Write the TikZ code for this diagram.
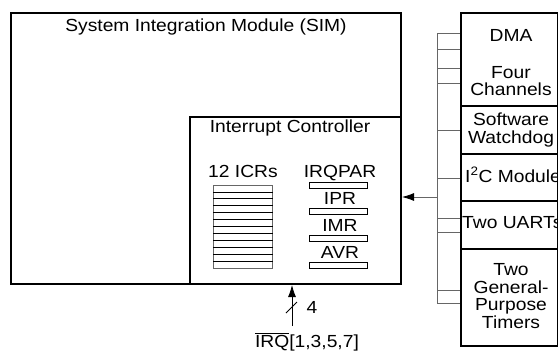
\documentclass[tikz,border=0pt]{standalone}
\usepackage{fontspec}
\setmainfont{Liberation Sans}[FakeStretch=1.1]
\usetikzlibrary{positioning, arrows.meta}
\tikzset{
    blk/.style={draw, line width=2pt, inner sep=0pt, anchor=north west},
    regbar/.style={draw, line width=0.8pt, inner sep=0pt, anchor=north west,
        minimum width=58pt, minimum height=6pt},
    lbl/.style={inner sep=0pt, align=center, font=\fontsize{17.5}{17.5}\selectfont},
    stub/.style={draw=black!60, line width=0.8pt},
}

\begin{document}
\begin{tikzpicture}[x=1pt, y=-1pt]
    \useasboundingbox (0,0) rectangle (558,351);

    % SIM and interrupt controller
    \node[blk, minimum width=390pt, minimum height=271pt] (sim) at (10,12) {};
    \node[blk, minimum width=211pt, minimum height=167pt] (ic) at (189,116) {};
    \node[lbl, anchor=base] (simtitle) at (206,31) {System Integration Module (SIM)};
    \node[lbl, anchor=base] (ictitle) at (290,132) {Interrupt Controller};

    % ICR stack
    \node[lbl, anchor=base] (icrlabel) at (243,177) {12 ICRs};
    \node[draw=black!60, line width=0.8pt, inner sep=0pt, anchor=north west,
        minimum width=59pt, minimum height=83pt] (icrs) at (213,185) {};
    \foreach \i in {1,...,11}
        \draw[line width=0.8pt] ([yshift={-\i*83/12*1pt}]icrs.north west)
            -- ([yshift={-\i*83/12*1pt}]icrs.north east);

    % registers
    \node[lbl, anchor=base] (irqpar) at (340,177) {IRQPAR};
    \node[regbar] (barpar) at (309,182) {};
    \node[lbl, anchor=base] (ipr) at (340,204) {IPR};
    \node[regbar] (baripr) at (309,208) {};
    \node[lbl, anchor=base] (imr) at (340,231) {IMR};
    \node[regbar] (barimr) at (309,235) {};
    \node[lbl, anchor=base] (avr) at (340,258) {AVR};
    \node[regbar] (baravr) at (309,262) {};

    % IRQ input
    \coordinate (irqsrc) at (292,326);
    \draw[line width=0.8pt, -{Latex[length=12pt, width=8pt]}] (irqsrc) -- (irqsrc |- ic.south);
    \draw[line width=0.8pt] (286,313) -- (297,302);
    \node[lbl, anchor=base] (width) at (312,313) {4};
    \node[lbl, anchor=base] (irq) at (307,347) {$\overline{\mbox{IRQ}}$[1,3,5,7]};

    % peripherals
    \node[blk, minimum width=97pt, minimum height=93pt] (dma) at (460,12) {};
    \node[blk, minimum width=97pt, minimum height=48pt] (wdog) at (460,105) {};
    \node[blk, minimum width=97pt, minimum height=47pt] (iic) at (460,153) {};
    \node[blk, minimum width=97pt, minimum height=48pt] (uart) at (460,200) {};
    \node[blk, minimum width=97pt, minimum height=97pt] (gpt) at (460,248) {};
    \node[lbl, anchor=base] (dmalabel) at (511,41) {DMA};
    \node[lbl] (chlabel) at (511,81) {Four\\Channels};
    \node[lbl] (wdoglabel) at (511,130) {Software\\Watchdog};
    \node[lbl, anchor=base west] (iiclabel) at (465,182) {I\textsuperscript{2}C Module};
    \node[lbl, anchor=base west] (uartlabel) at (462,228) {Two UARTs};
    \node[lbl] (gptlabel) at (511,296) {Two\\General-\\Purpose\\Timers};

    % bus
    \coordinate (bustop) at (437,33);
    \coordinate (busbot) at (437,303);
    \draw[stub] (bustop) -- (busbot);
    \foreach \y in {33,49,68,83,130,178,218,232,290,303} {
        \coordinate (s) at (437,\y);
        \draw[stub] (s) -- (s -| dma.west);
    }
    \coordinate (busin) at (437,197);
    \draw[stub, -{Latex[length=12pt, width=8pt, fill=black, color=black]}] (busin) -- (busin -| ic.east);
\end{tikzpicture}
\end{document}
